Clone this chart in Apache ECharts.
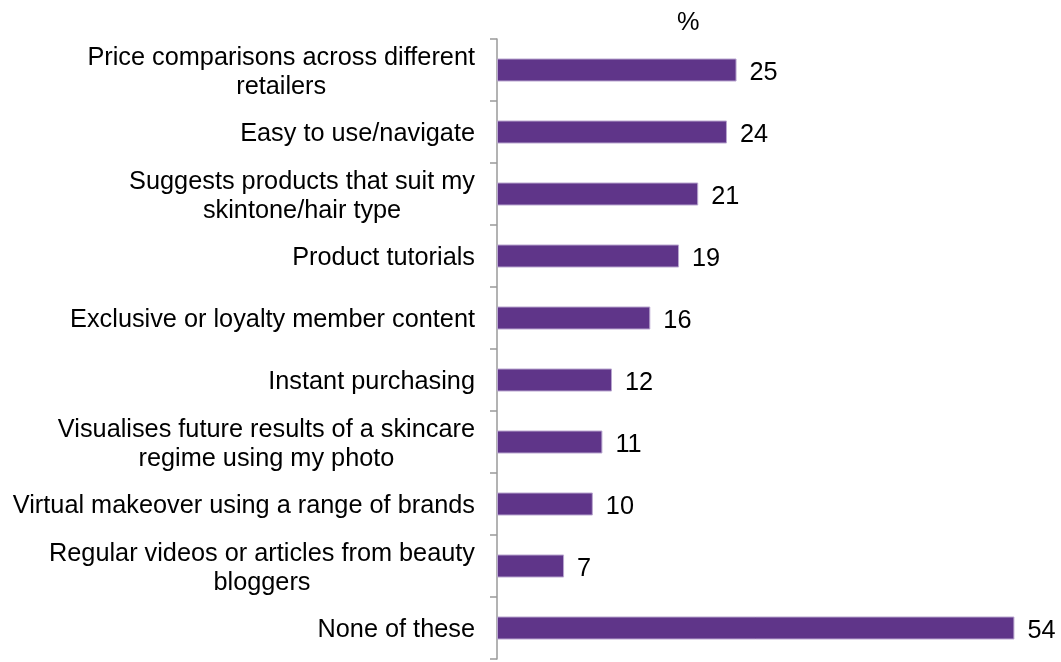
<!DOCTYPE html>
<html>
<head>
<meta charset="utf-8">
<style>
  html, body { margin: 0; padding: 0; background: #ffffff; }
  #chart { width: 1061px; height: 662px; }
</style>
<script src="https://cdn.jsdelivr.net/npm/echarts@6/dist/echarts.min.js"></script>
</head>
<body>
<div id="chart"></div>
<script>
// Features respondents find appealing (%), listed top to bottom
const categories = [
  "Price comparisons across different\nretailers",
  "Easy to use/navigate",
  "Suggests products that suit my\nskintone/hair type",
  "Product tutorials",
  "Exclusive or loyalty member content",
  "Instant purchasing",
  "Visualises future results of a skincare\nregime using my photo",
  "Virtual makeover using a range of brands",
  "Regular videos or articles from beauty\nbloggers",
  "None of these"
];
const values = [25, 24, 21, 19, 16, 12, 11, 10, 7, 54];
const unitLabel = "%";

const FONT = "'Liberation Sans', Arial, sans-serif";
const FS = 25.3;

const chart = echarts.init(document.getElementById('chart'), null, { renderer: 'canvas' });

chart.setOption({
  backgroundColor: '#ffffff',
  animation: false,
  title: {
    text: unitLabel,
    left: 677,
    top: 11,
    padding: 0,
    textStyle: { fontFamily: FONT, fontSize: FS, fontWeight: 'normal', color: '#000000' }
  },
  grid: { left: 497, right: 37, top: 39, bottom: 3, containLabel: false },
  xAxis: {
    type: 'value',
    min: 0,
    max: 55,
    show: false
  },
  yAxis: {
    type: 'category',
    data: categories,
    inverse: true,
    axisLine: { show: true, lineStyle: { color: '#9a9a9a', width: 1.5 } },
    axisTick: { show: true, inside: false, length: 7, alignWithLabel: false, lineStyle: { color: '#9a9a9a', width: 1.5 } },
    axisLabel: {
      margin: 22,
      align: 'right',
      fontFamily: FONT,
      fontSize: FS,
      color: '#000000',
      lineHeight: 29,
      padding: [5, 0, 0, 0],
      formatter: function (v) {
        return v.split('\n').map(function (line) { return '{c|' + line + '}'; }).join('\n');
      },
      rich: {
        c: { align: 'center', fontFamily: FONT, fontSize: FS, color: '#000000', lineHeight: 29 }
      }
    },
    splitLine: { show: false }
  },
  series: [{
    type: 'bar',
    data: values,
    barWidth: 23,
    itemStyle: { color: '#5f3589', borderColor: '#b9a6cf', borderWidth: 1 },
    label: {
      show: true,
      position: 'right',
      distance: 13,
      offset: [0, 3],
      fontFamily: FONT,
      fontSize: FS,
      color: '#000000'
    }
  }]
});
</script>
</body>
</html>
